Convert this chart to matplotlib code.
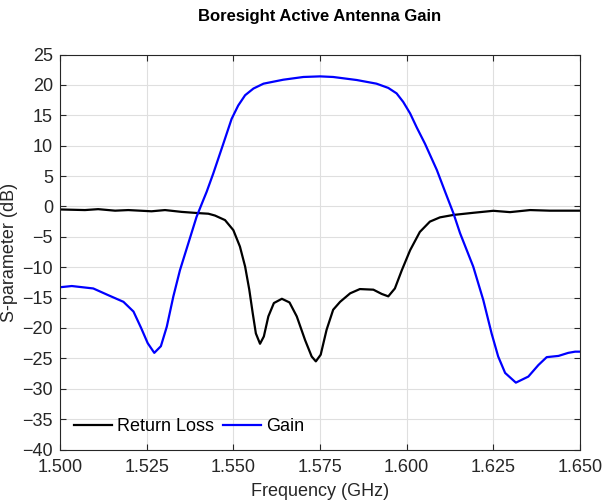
import numpy as np
import matplotlib.pyplot as plt
from matplotlib.ticker import FormatStrFormatter

plt.rcParams['font.family'] = ['Liberation Sans', 'DejaVu Sans']

# return loss (black)
rl_f = [1.5, 1.5072, 1.511, 1.5159, 1.5197, 1.5264, 1.5303, 1.5351, 1.5399,
        1.5428, 1.5447, 1.5476, 1.55, 1.5519, 1.5534, 1.5546, 1.5556, 1.5565,
        1.5577, 1.5588, 1.5601, 1.5617, 1.564, 1.5662, 1.5683, 1.5707, 1.5726,
        1.5738, 1.5752, 1.5769, 1.5788, 1.5808, 1.5837, 1.5865, 1.5904, 1.5928,
        1.5947, 1.5966, 1.5986, 1.601, 1.6038, 1.6067, 1.6096, 1.6135, 1.6192,
        1.625, 1.6298, 1.6356, 1.6413, 1.65]
rl_db = [-0.5, -0.6, -0.45, -0.7, -0.6, -0.8, -0.6, -0.9, -1.1,
         -1.2, -1.5, -2.25, -3.9, -6.6, -9.9, -13.7, -17.6, -20.9,
         -22.6, -21.4, -18.1, -15.9, -15.2, -15.8, -18.1, -22.0, -24.7,
         -25.5, -24.4, -20.3, -17.0, -15.7, -14.3, -13.6, -13.7, -14.4,
         -14.8, -13.5, -10.5, -7.2, -4.2, -2.5, -1.8, -1.4, -1.05,
         -0.72, -0.94, -0.6, -0.7, -0.7]

# gain (blue)
g_f = [1.5, 1.5034, 1.5096, 1.5139, 1.5183, 1.5212, 1.5234, 1.5253, 1.5272,
       1.5291, 1.5308, 1.5327, 1.5346, 1.537, 1.5394, 1.5413, 1.5423, 1.5442,
       1.5471, 1.5495, 1.5514, 1.5534, 1.5558, 1.5587, 1.5644, 1.5702, 1.575,
       1.5788, 1.5856, 1.5913, 1.5947, 1.5971, 1.599, 1.601, 1.6029, 1.6053,
       1.6087, 1.6111, 1.6135, 1.6154, 1.6192, 1.6221, 1.6245, 1.6264, 1.6284,
       1.6315, 1.6351, 1.638, 1.6404, 1.6438, 1.6466, 1.6486, 1.65]
g_db = [-13.3, -13.1, -13.5, -14.6, -15.7, -17.3, -20.0, -22.5, -24.1,
        -23.0, -19.8, -14.8, -10.5, -6.1, -1.7, 1.0, 2.4, 5.4,
        10.3, 14.4, 16.6, 18.3, 19.4, 20.2, 20.85, 21.3, 21.4,
        21.3, 20.8, 20.2, 19.5, 18.6, 17.2, 15.3, 13.0, 10.3,
        6.0, 2.4, -1.15, -4.4, -9.9, -15.4, -20.9, -24.7, -27.4,
        -29.0, -28.0, -26.1, -24.8, -24.6, -24.1, -23.9, -23.9]

fig = plt.figure(figsize=(6.05, 5.04), dpi=100)
ax = fig.add_axes([60/605, 54.5/504, 520/605, 395/504])

ax.plot(rl_f, rl_db, color='black', lw=1.6, label='Return Loss')
ax.plot(g_f, g_db, color='blue', lw=1.6, label='Gain')

ax.set_xlim(1.5, 1.65)
ax.set_ylim(-40, 25)
ax.set_xticks(np.arange(1.5, 1.6501, 0.025))
ax.set_yticks(np.arange(-40, 26, 5))
ax.xaxis.set_major_formatter(FormatStrFormatter('%.3f'))
ax.grid(True, color='#dfdfdf', lw=0.8)
ax.set_axisbelow(True)
ax.tick_params(direction='in', top=True, right=True, labelsize=13, colors='#262626', length=4)
ax.tick_params(axis='x', pad=7)
ax.tick_params(axis='y', pad=5)
for s in ax.spines.values():
    s.set_color('#262626')

ax.set_xlabel('Frequency (GHz)', fontsize=13, labelpad=5, color='#262626')
ax.set_ylabel('S-parameter (dB)', fontsize=13, labelpad=3, color='#262626')
ax.set_title('Boresight Active Antenna Gain', fontsize=12, fontweight='bold', pad=24)
ax.legend(loc='lower left', ncol=2, frameon=False, fontsize=13,
          handlelength=2.1, columnspacing=0.5, handletextpad=0.28,
          borderaxespad=0.45, borderpad=0.35)

fig.savefig('out.png', dpi=100)
